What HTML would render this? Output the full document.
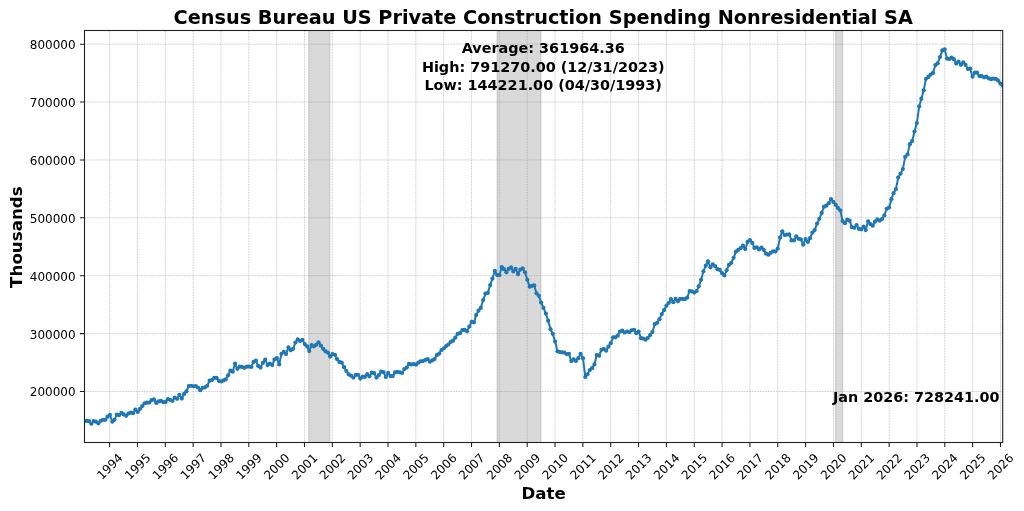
<!DOCTYPE html>
<html lang="en"><head><meta charset="utf-8"><title>Census Bureau US Private Construction Spending Nonresidential SA</title>
<style>html,body{margin:0;padding:0;background:#fff}body{width:1024px;height:511px;overflow:hidden}svg{display:block}text{font-family:"DejaVu Sans","Liberation Sans",sans-serif;fill:#000}.b{font-weight:bold}</style></head><body>
<svg width="1024" height="511" viewBox="0 0 1024 511">
<rect width="1024" height="511" fill="#fff"/>
<rect x="308.8" y="30.5" width="21.0" height="412.0" fill="#808080" fill-opacity="0.3"/>
<path d="M308.8 30.5V442.5M329.8 30.5V442.5" stroke="#808080" stroke-opacity="0.3" stroke-width="1.2" fill="none"/>
<rect x="497.1" y="30.5" width="43.8" height="412.0" fill="#808080" fill-opacity="0.3"/>
<path d="M497.1 30.5V442.5M540.9 30.5V442.5" stroke="#808080" stroke-opacity="0.3" stroke-width="1.2" fill="none"/>
<rect x="835.5" y="30.5" width="7.1" height="412.0" fill="#808080" fill-opacity="0.3"/>
<path d="M835.5 30.5V442.5M842.6 30.5V442.5" stroke="#808080" stroke-opacity="0.3" stroke-width="1.2" fill="none"/>
<path d="M109.60 30.5V442.5M137.44 30.5V442.5M165.28 30.5V442.5M193.12 30.5V442.5M220.96 30.5V442.5M248.80 30.5V442.5M276.64 30.5V442.5M304.48 30.5V442.5M332.32 30.5V442.5M360.16 30.5V442.5M388.00 30.5V442.5M415.84 30.5V442.5M443.68 30.5V442.5M471.52 30.5V442.5M499.36 30.5V442.5M527.20 30.5V442.5M555.04 30.5V442.5M582.88 30.5V442.5M610.72 30.5V442.5M638.56 30.5V442.5M666.40 30.5V442.5M694.24 30.5V442.5M722.08 30.5V442.5M749.92 30.5V442.5M777.76 30.5V442.5M805.60 30.5V442.5M833.44 30.5V442.5M861.28 30.5V442.5M889.12 30.5V442.5M916.96 30.5V442.5M944.80 30.5V442.5M972.64 30.5V442.5M1000.48 30.5V442.5M84.5 391.49H1002.7M84.5 333.60H1002.7M84.5 275.71H1002.7M84.5 217.83H1002.7M84.5 159.94H1002.7M84.5 102.06H1002.7M84.5 44.17H1002.7" fill="none" stroke="#808080" stroke-opacity="0.56" stroke-width="0.6" stroke-dasharray="1.9 0.79"/>
<clipPath id="c"><rect x="84.5" y="30.5" width="918.2" height="412.0"/></clipPath>
<g clip-path="url(#c)"><path d="M84.50 420.84L86.63 420.97L88.99 421.09L91.28 423.77L93.64 421.09L95.93 421.71L98.29 423.34L100.65 420.84L102.94 419.84L105.30 419.84L107.58 416.70L109.94 414.83L112.31 421.71L114.44 419.84L116.80 414.58L119.09 415.20L121.45 412.95L123.73 414.45L126.09 415.83L128.46 413.57L130.74 412.57L133.10 413.20L135.39 409.57L137.75 411.95L140.11 408.81L142.24 406.06L144.61 403.30L146.89 402.68L149.25 402.55L151.54 400.05L153.90 399.42L156.26 402.93L158.55 401.42L160.91 400.80L163.19 402.05L165.56 402.05L167.92 399.17L170.13 399.80L172.49 400.80L174.77 397.54L177.14 398.79L179.42 394.79L181.78 398.54L184.14 393.91L186.43 391.28L188.79 386.02L191.08 385.77L193.44 386.27L195.80 386.02L197.93 387.52L200.29 390.15L202.58 387.86L204.94 387.36L207.23 385.73L209.59 380.72L211.95 380.10L214.23 377.97L216.60 377.97L218.88 381.10L221.24 381.35L223.61 380.47L225.74 379.47L228.10 375.34L230.39 370.70L232.75 371.71L235.03 363.57L237.39 368.83L239.76 366.57L242.04 366.95L244.40 367.82L246.69 366.70L249.05 366.57L251.41 366.95L253.54 361.94L255.91 360.68L258.19 365.95L260.55 367.57L262.84 362.81L265.20 359.68L267.56 365.07L269.85 363.57L272.21 365.07L274.49 359.43L276.86 358.18L279.22 364.44L281.43 353.80L283.79 351.92L286.07 354.05L288.43 347.28L290.72 350.29L293.08 348.79L295.44 342.52L297.73 339.39L300.09 341.02L302.38 339.77L304.74 344.03L307.10 346.28L309.23 351.04L311.59 345.03L313.88 346.28L316.24 344.78L318.53 342.27L320.89 345.66L323.25 348.79L325.53 351.29L327.90 352.54L330.18 356.55L332.54 354.05L334.90 354.80L337.04 359.06L339.40 361.94L341.68 362.56L344.05 367.20L346.33 371.08L348.69 374.46L351.05 375.71L353.34 377.59L355.70 374.84L357.99 374.84L360.35 378.59L362.71 376.59L364.84 376.97L367.20 374.21L369.49 376.34L371.85 372.58L374.14 373.21L376.50 377.59L378.86 375.09L381.15 371.71L383.51 372.21L385.79 376.97L388.15 372.96L390.52 376.09L392.73 376.09L395.09 372.33L397.37 371.96L399.73 372.33L402.02 372.96L404.38 369.08L406.74 367.57L409.03 363.82L411.39 364.44L413.67 364.07L416.04 364.69L418.40 362.56L420.53 361.31L422.89 361.06L425.18 360.06L427.54 359.18L429.82 361.69L432.19 360.43L434.55 359.06L436.83 355.05L439.20 353.55L441.48 350.12L443.84 348.24L446.20 346.11L448.34 344.48L450.70 341.98L452.98 340.72L455.35 337.59L457.63 333.84L459.99 333.21L462.35 330.08L464.64 329.83L467.00 331.33L469.29 326.57L471.65 321.94L474.01 322.31L476.14 315.05L478.50 310.67L480.79 307.91L483.15 300.02L485.44 293.59L487.80 292.97L490.16 285.08L492.44 278.56L494.81 270.80L497.09 275.06L499.45 275.06L501.82 267.04L504.02 269.17L506.39 272.30L508.67 268.92L511.03 267.29L513.32 271.42L515.68 268.79L518.04 274.18L520.33 269.55L522.69 268.29L524.97 272.30L527.34 279.82L529.70 286.70L531.83 285.83L534.19 285.45L536.48 293.34L538.84 295.85L541.12 302.52L543.49 307.91L545.85 313.55L548.13 320.68L550.49 329.20L552.78 333.84L555.14 341.60L557.50 351.37L559.64 352.00L562.00 352.31L564.28 352.56L566.64 354.07L568.93 353.82L571.29 361.08L573.65 359.45L575.94 360.95L578.30 358.20L580.59 353.82L582.95 358.20L585.31 376.99L587.44 374.23L589.80 370.10L592.09 368.22L594.45 364.46L596.74 355.07L599.10 355.69L601.46 349.81L603.74 348.81L606.11 350.68L608.39 346.68L610.75 343.17L613.11 337.28L615.32 337.28L617.69 335.66L619.97 331.52L622.33 330.65L624.62 332.52L626.98 331.52L629.34 332.27L631.63 330.27L633.99 329.77L636.27 333.15L638.63 331.52L641.00 338.16L643.13 338.54L645.49 339.66L647.78 337.99L650.14 335.11L652.42 331.98L654.79 324.21L657.15 322.83L659.43 319.20L661.79 314.07L664.08 310.06L666.44 305.68L668.80 302.79L670.94 299.04L673.30 302.17L675.58 298.79L677.94 301.29L680.23 298.79L682.59 299.04L684.95 299.04L687.24 297.53L689.60 291.02L691.88 291.37L694.25 292.62L696.61 291.12L698.74 286.36L701.10 279.72L703.39 271.33L705.75 265.69L708.03 261.31L710.40 267.32L712.76 264.44L715.04 266.07L717.41 269.20L719.69 269.83L722.05 273.21L724.41 275.46L726.62 270.33L728.98 264.82L731.27 262.81L733.63 257.80L735.92 251.67L738.28 249.79L740.64 248.16L742.93 245.66L745.29 249.04L747.57 241.90L749.93 240.02L752.30 242.90L754.43 247.91L756.79 247.28L759.08 249.41L761.44 247.53L763.72 249.79L766.08 253.55L768.45 254.67L770.73 252.79L773.09 251.29L775.38 251.54L777.74 248.54L780.10 237.51L782.23 231.25L784.60 235.01L786.88 234.63L789.24 234.38L791.53 240.40L793.89 240.40L796.25 236.26L798.54 238.77L800.90 239.39L803.18 244.65L805.55 239.02L807.91 241.90L810.04 238.22L812.40 232.58L814.69 230.08L817.05 223.57L819.33 218.81L821.70 212.92L824.06 206.66L826.34 205.66L828.70 203.15L830.99 199.02L833.35 201.90L835.71 204.78L837.92 207.91L840.28 210.29L842.57 221.06L844.93 223.19L847.22 219.68L849.58 220.68L851.94 227.20L854.22 227.82L856.59 225.07L858.87 228.83L861.23 229.45L863.59 226.57L865.73 230.08L868.09 221.31L870.37 224.07L872.74 225.69L875.02 221.69L877.38 219.43L879.75 220.68L882.03 219.06L884.39 215.42L886.68 208.79L889.04 207.53L891.40 199.14L893.53 193.13L895.90 189.12L898.18 177.59L900.54 173.59L902.83 169.08L905.19 156.93L907.55 154.42L909.84 144.15L912.20 141.02L914.48 131.50L916.84 123.10L919.21 106.31L921.34 98.67L923.70 90.28L925.99 78.76L928.35 76.95L930.63 74.58L933.00 72.95L935.36 65.06L937.64 63.30L940.00 57.04L942.29 50.40L944.65 49.23L947.01 58.54L949.22 58.92L951.58 57.54L953.87 59.17L956.23 63.55L958.52 61.68L960.88 64.81L963.24 62.30L965.52 64.81L967.89 68.94L970.17 68.56L972.53 76.70L974.89 72.70L977.03 72.57L979.39 76.08L981.67 76.08L984.04 77.33L986.32 76.70L988.68 78.33L991.04 79.21L993.33 78.58L995.69 78.96L997.98 80.46L1000.34 83.59L1002.70 85.71" fill="none" stroke="#1f77b4" stroke-width="2" stroke-linejoin="round" stroke-linecap="square"/>
<g fill="#1f77b4"><circle cx="84.50" cy="420.84" r="2.1"/><circle cx="86.63" cy="420.97" r="2.1"/><circle cx="88.99" cy="421.09" r="2.1"/><circle cx="91.28" cy="423.77" r="2.1"/><circle cx="93.64" cy="421.09" r="2.1"/><circle cx="95.93" cy="421.71" r="2.1"/><circle cx="98.29" cy="423.34" r="2.1"/><circle cx="100.65" cy="420.84" r="2.1"/><circle cx="102.94" cy="419.84" r="2.1"/><circle cx="105.30" cy="419.84" r="2.1"/><circle cx="107.58" cy="416.70" r="2.1"/><circle cx="109.94" cy="414.83" r="2.1"/><circle cx="112.31" cy="421.71" r="2.1"/><circle cx="114.44" cy="419.84" r="2.1"/><circle cx="116.80" cy="414.58" r="2.1"/><circle cx="119.09" cy="415.20" r="2.1"/><circle cx="121.45" cy="412.95" r="2.1"/><circle cx="123.73" cy="414.45" r="2.1"/><circle cx="126.09" cy="415.83" r="2.1"/><circle cx="128.46" cy="413.57" r="2.1"/><circle cx="130.74" cy="412.57" r="2.1"/><circle cx="133.10" cy="413.20" r="2.1"/><circle cx="135.39" cy="409.57" r="2.1"/><circle cx="137.75" cy="411.95" r="2.1"/><circle cx="140.11" cy="408.81" r="2.1"/><circle cx="142.24" cy="406.06" r="2.1"/><circle cx="144.61" cy="403.30" r="2.1"/><circle cx="146.89" cy="402.68" r="2.1"/><circle cx="149.25" cy="402.55" r="2.1"/><circle cx="151.54" cy="400.05" r="2.1"/><circle cx="153.90" cy="399.42" r="2.1"/><circle cx="156.26" cy="402.93" r="2.1"/><circle cx="158.55" cy="401.42" r="2.1"/><circle cx="160.91" cy="400.80" r="2.1"/><circle cx="163.19" cy="402.05" r="2.1"/><circle cx="165.56" cy="402.05" r="2.1"/><circle cx="167.92" cy="399.17" r="2.1"/><circle cx="170.13" cy="399.80" r="2.1"/><circle cx="172.49" cy="400.80" r="2.1"/><circle cx="174.77" cy="397.54" r="2.1"/><circle cx="177.14" cy="398.79" r="2.1"/><circle cx="179.42" cy="394.79" r="2.1"/><circle cx="181.78" cy="398.54" r="2.1"/><circle cx="184.14" cy="393.91" r="2.1"/><circle cx="186.43" cy="391.28" r="2.1"/><circle cx="188.79" cy="386.02" r="2.1"/><circle cx="191.08" cy="385.77" r="2.1"/><circle cx="193.44" cy="386.27" r="2.1"/><circle cx="195.80" cy="386.02" r="2.1"/><circle cx="197.93" cy="387.52" r="2.1"/><circle cx="200.29" cy="390.15" r="2.1"/><circle cx="202.58" cy="387.86" r="2.1"/><circle cx="204.94" cy="387.36" r="2.1"/><circle cx="207.23" cy="385.73" r="2.1"/><circle cx="209.59" cy="380.72" r="2.1"/><circle cx="211.95" cy="380.10" r="2.1"/><circle cx="214.23" cy="377.97" r="2.1"/><circle cx="216.60" cy="377.97" r="2.1"/><circle cx="218.88" cy="381.10" r="2.1"/><circle cx="221.24" cy="381.35" r="2.1"/><circle cx="223.61" cy="380.47" r="2.1"/><circle cx="225.74" cy="379.47" r="2.1"/><circle cx="228.10" cy="375.34" r="2.1"/><circle cx="230.39" cy="370.70" r="2.1"/><circle cx="232.75" cy="371.71" r="2.1"/><circle cx="235.03" cy="363.57" r="2.1"/><circle cx="237.39" cy="368.83" r="2.1"/><circle cx="239.76" cy="366.57" r="2.1"/><circle cx="242.04" cy="366.95" r="2.1"/><circle cx="244.40" cy="367.82" r="2.1"/><circle cx="246.69" cy="366.70" r="2.1"/><circle cx="249.05" cy="366.57" r="2.1"/><circle cx="251.41" cy="366.95" r="2.1"/><circle cx="253.54" cy="361.94" r="2.1"/><circle cx="255.91" cy="360.68" r="2.1"/><circle cx="258.19" cy="365.95" r="2.1"/><circle cx="260.55" cy="367.57" r="2.1"/><circle cx="262.84" cy="362.81" r="2.1"/><circle cx="265.20" cy="359.68" r="2.1"/><circle cx="267.56" cy="365.07" r="2.1"/><circle cx="269.85" cy="363.57" r="2.1"/><circle cx="272.21" cy="365.07" r="2.1"/><circle cx="274.49" cy="359.43" r="2.1"/><circle cx="276.86" cy="358.18" r="2.1"/><circle cx="279.22" cy="364.44" r="2.1"/><circle cx="281.43" cy="353.80" r="2.1"/><circle cx="283.79" cy="351.92" r="2.1"/><circle cx="286.07" cy="354.05" r="2.1"/><circle cx="288.43" cy="347.28" r="2.1"/><circle cx="290.72" cy="350.29" r="2.1"/><circle cx="293.08" cy="348.79" r="2.1"/><circle cx="295.44" cy="342.52" r="2.1"/><circle cx="297.73" cy="339.39" r="2.1"/><circle cx="300.09" cy="341.02" r="2.1"/><circle cx="302.38" cy="339.77" r="2.1"/><circle cx="304.74" cy="344.03" r="2.1"/><circle cx="307.10" cy="346.28" r="2.1"/><circle cx="309.23" cy="351.04" r="2.1"/><circle cx="311.59" cy="345.03" r="2.1"/><circle cx="313.88" cy="346.28" r="2.1"/><circle cx="316.24" cy="344.78" r="2.1"/><circle cx="318.53" cy="342.27" r="2.1"/><circle cx="320.89" cy="345.66" r="2.1"/><circle cx="323.25" cy="348.79" r="2.1"/><circle cx="325.53" cy="351.29" r="2.1"/><circle cx="327.90" cy="352.54" r="2.1"/><circle cx="330.18" cy="356.55" r="2.1"/><circle cx="332.54" cy="354.05" r="2.1"/><circle cx="334.90" cy="354.80" r="2.1"/><circle cx="337.04" cy="359.06" r="2.1"/><circle cx="339.40" cy="361.94" r="2.1"/><circle cx="341.68" cy="362.56" r="2.1"/><circle cx="344.05" cy="367.20" r="2.1"/><circle cx="346.33" cy="371.08" r="2.1"/><circle cx="348.69" cy="374.46" r="2.1"/><circle cx="351.05" cy="375.71" r="2.1"/><circle cx="353.34" cy="377.59" r="2.1"/><circle cx="355.70" cy="374.84" r="2.1"/><circle cx="357.99" cy="374.84" r="2.1"/><circle cx="360.35" cy="378.59" r="2.1"/><circle cx="362.71" cy="376.59" r="2.1"/><circle cx="364.84" cy="376.97" r="2.1"/><circle cx="367.20" cy="374.21" r="2.1"/><circle cx="369.49" cy="376.34" r="2.1"/><circle cx="371.85" cy="372.58" r="2.1"/><circle cx="374.14" cy="373.21" r="2.1"/><circle cx="376.50" cy="377.59" r="2.1"/><circle cx="378.86" cy="375.09" r="2.1"/><circle cx="381.15" cy="371.71" r="2.1"/><circle cx="383.51" cy="372.21" r="2.1"/><circle cx="385.79" cy="376.97" r="2.1"/><circle cx="388.15" cy="372.96" r="2.1"/><circle cx="390.52" cy="376.09" r="2.1"/><circle cx="392.73" cy="376.09" r="2.1"/><circle cx="395.09" cy="372.33" r="2.1"/><circle cx="397.37" cy="371.96" r="2.1"/><circle cx="399.73" cy="372.33" r="2.1"/><circle cx="402.02" cy="372.96" r="2.1"/><circle cx="404.38" cy="369.08" r="2.1"/><circle cx="406.74" cy="367.57" r="2.1"/><circle cx="409.03" cy="363.82" r="2.1"/><circle cx="411.39" cy="364.44" r="2.1"/><circle cx="413.67" cy="364.07" r="2.1"/><circle cx="416.04" cy="364.69" r="2.1"/><circle cx="418.40" cy="362.56" r="2.1"/><circle cx="420.53" cy="361.31" r="2.1"/><circle cx="422.89" cy="361.06" r="2.1"/><circle cx="425.18" cy="360.06" r="2.1"/><circle cx="427.54" cy="359.18" r="2.1"/><circle cx="429.82" cy="361.69" r="2.1"/><circle cx="432.19" cy="360.43" r="2.1"/><circle cx="434.55" cy="359.06" r="2.1"/><circle cx="436.83" cy="355.05" r="2.1"/><circle cx="439.20" cy="353.55" r="2.1"/><circle cx="441.48" cy="350.12" r="2.1"/><circle cx="443.84" cy="348.24" r="2.1"/><circle cx="446.20" cy="346.11" r="2.1"/><circle cx="448.34" cy="344.48" r="2.1"/><circle cx="450.70" cy="341.98" r="2.1"/><circle cx="452.98" cy="340.72" r="2.1"/><circle cx="455.35" cy="337.59" r="2.1"/><circle cx="457.63" cy="333.84" r="2.1"/><circle cx="459.99" cy="333.21" r="2.1"/><circle cx="462.35" cy="330.08" r="2.1"/><circle cx="464.64" cy="329.83" r="2.1"/><circle cx="467.00" cy="331.33" r="2.1"/><circle cx="469.29" cy="326.57" r="2.1"/><circle cx="471.65" cy="321.94" r="2.1"/><circle cx="474.01" cy="322.31" r="2.1"/><circle cx="476.14" cy="315.05" r="2.1"/><circle cx="478.50" cy="310.67" r="2.1"/><circle cx="480.79" cy="307.91" r="2.1"/><circle cx="483.15" cy="300.02" r="2.1"/><circle cx="485.44" cy="293.59" r="2.1"/><circle cx="487.80" cy="292.97" r="2.1"/><circle cx="490.16" cy="285.08" r="2.1"/><circle cx="492.44" cy="278.56" r="2.1"/><circle cx="494.81" cy="270.80" r="2.1"/><circle cx="497.09" cy="275.06" r="2.1"/><circle cx="499.45" cy="275.06" r="2.1"/><circle cx="501.82" cy="267.04" r="2.1"/><circle cx="504.02" cy="269.17" r="2.1"/><circle cx="506.39" cy="272.30" r="2.1"/><circle cx="508.67" cy="268.92" r="2.1"/><circle cx="511.03" cy="267.29" r="2.1"/><circle cx="513.32" cy="271.42" r="2.1"/><circle cx="515.68" cy="268.79" r="2.1"/><circle cx="518.04" cy="274.18" r="2.1"/><circle cx="520.33" cy="269.55" r="2.1"/><circle cx="522.69" cy="268.29" r="2.1"/><circle cx="524.97" cy="272.30" r="2.1"/><circle cx="527.34" cy="279.82" r="2.1"/><circle cx="529.70" cy="286.70" r="2.1"/><circle cx="531.83" cy="285.83" r="2.1"/><circle cx="534.19" cy="285.45" r="2.1"/><circle cx="536.48" cy="293.34" r="2.1"/><circle cx="538.84" cy="295.85" r="2.1"/><circle cx="541.12" cy="302.52" r="2.1"/><circle cx="543.49" cy="307.91" r="2.1"/><circle cx="545.85" cy="313.55" r="2.1"/><circle cx="548.13" cy="320.68" r="2.1"/><circle cx="550.49" cy="329.20" r="2.1"/><circle cx="552.78" cy="333.84" r="2.1"/><circle cx="555.14" cy="341.60" r="2.1"/><circle cx="557.50" cy="351.37" r="2.1"/><circle cx="559.64" cy="352.00" r="2.1"/><circle cx="562.00" cy="352.31" r="2.1"/><circle cx="564.28" cy="352.56" r="2.1"/><circle cx="566.64" cy="354.07" r="2.1"/><circle cx="568.93" cy="353.82" r="2.1"/><circle cx="571.29" cy="361.08" r="2.1"/><circle cx="573.65" cy="359.45" r="2.1"/><circle cx="575.94" cy="360.95" r="2.1"/><circle cx="578.30" cy="358.20" r="2.1"/><circle cx="580.59" cy="353.82" r="2.1"/><circle cx="582.95" cy="358.20" r="2.1"/><circle cx="585.31" cy="376.99" r="2.1"/><circle cx="587.44" cy="374.23" r="2.1"/><circle cx="589.80" cy="370.10" r="2.1"/><circle cx="592.09" cy="368.22" r="2.1"/><circle cx="594.45" cy="364.46" r="2.1"/><circle cx="596.74" cy="355.07" r="2.1"/><circle cx="599.10" cy="355.69" r="2.1"/><circle cx="601.46" cy="349.81" r="2.1"/><circle cx="603.74" cy="348.81" r="2.1"/><circle cx="606.11" cy="350.68" r="2.1"/><circle cx="608.39" cy="346.68" r="2.1"/><circle cx="610.75" cy="343.17" r="2.1"/><circle cx="613.11" cy="337.28" r="2.1"/><circle cx="615.32" cy="337.28" r="2.1"/><circle cx="617.69" cy="335.66" r="2.1"/><circle cx="619.97" cy="331.52" r="2.1"/><circle cx="622.33" cy="330.65" r="2.1"/><circle cx="624.62" cy="332.52" r="2.1"/><circle cx="626.98" cy="331.52" r="2.1"/><circle cx="629.34" cy="332.27" r="2.1"/><circle cx="631.63" cy="330.27" r="2.1"/><circle cx="633.99" cy="329.77" r="2.1"/><circle cx="636.27" cy="333.15" r="2.1"/><circle cx="638.63" cy="331.52" r="2.1"/><circle cx="641.00" cy="338.16" r="2.1"/><circle cx="643.13" cy="338.54" r="2.1"/><circle cx="645.49" cy="339.66" r="2.1"/><circle cx="647.78" cy="337.99" r="2.1"/><circle cx="650.14" cy="335.11" r="2.1"/><circle cx="652.42" cy="331.98" r="2.1"/><circle cx="654.79" cy="324.21" r="2.1"/><circle cx="657.15" cy="322.83" r="2.1"/><circle cx="659.43" cy="319.20" r="2.1"/><circle cx="661.79" cy="314.07" r="2.1"/><circle cx="664.08" cy="310.06" r="2.1"/><circle cx="666.44" cy="305.68" r="2.1"/><circle cx="668.80" cy="302.79" r="2.1"/><circle cx="670.94" cy="299.04" r="2.1"/><circle cx="673.30" cy="302.17" r="2.1"/><circle cx="675.58" cy="298.79" r="2.1"/><circle cx="677.94" cy="301.29" r="2.1"/><circle cx="680.23" cy="298.79" r="2.1"/><circle cx="682.59" cy="299.04" r="2.1"/><circle cx="684.95" cy="299.04" r="2.1"/><circle cx="687.24" cy="297.53" r="2.1"/><circle cx="689.60" cy="291.02" r="2.1"/><circle cx="691.88" cy="291.37" r="2.1"/><circle cx="694.25" cy="292.62" r="2.1"/><circle cx="696.61" cy="291.12" r="2.1"/><circle cx="698.74" cy="286.36" r="2.1"/><circle cx="701.10" cy="279.72" r="2.1"/><circle cx="703.39" cy="271.33" r="2.1"/><circle cx="705.75" cy="265.69" r="2.1"/><circle cx="708.03" cy="261.31" r="2.1"/><circle cx="710.40" cy="267.32" r="2.1"/><circle cx="712.76" cy="264.44" r="2.1"/><circle cx="715.04" cy="266.07" r="2.1"/><circle cx="717.41" cy="269.20" r="2.1"/><circle cx="719.69" cy="269.83" r="2.1"/><circle cx="722.05" cy="273.21" r="2.1"/><circle cx="724.41" cy="275.46" r="2.1"/><circle cx="726.62" cy="270.33" r="2.1"/><circle cx="728.98" cy="264.82" r="2.1"/><circle cx="731.27" cy="262.81" r="2.1"/><circle cx="733.63" cy="257.80" r="2.1"/><circle cx="735.92" cy="251.67" r="2.1"/><circle cx="738.28" cy="249.79" r="2.1"/><circle cx="740.64" cy="248.16" r="2.1"/><circle cx="742.93" cy="245.66" r="2.1"/><circle cx="745.29" cy="249.04" r="2.1"/><circle cx="747.57" cy="241.90" r="2.1"/><circle cx="749.93" cy="240.02" r="2.1"/><circle cx="752.30" cy="242.90" r="2.1"/><circle cx="754.43" cy="247.91" r="2.1"/><circle cx="756.79" cy="247.28" r="2.1"/><circle cx="759.08" cy="249.41" r="2.1"/><circle cx="761.44" cy="247.53" r="2.1"/><circle cx="763.72" cy="249.79" r="2.1"/><circle cx="766.08" cy="253.55" r="2.1"/><circle cx="768.45" cy="254.67" r="2.1"/><circle cx="770.73" cy="252.79" r="2.1"/><circle cx="773.09" cy="251.29" r="2.1"/><circle cx="775.38" cy="251.54" r="2.1"/><circle cx="777.74" cy="248.54" r="2.1"/><circle cx="780.10" cy="237.51" r="2.1"/><circle cx="782.23" cy="231.25" r="2.1"/><circle cx="784.60" cy="235.01" r="2.1"/><circle cx="786.88" cy="234.63" r="2.1"/><circle cx="789.24" cy="234.38" r="2.1"/><circle cx="791.53" cy="240.40" r="2.1"/><circle cx="793.89" cy="240.40" r="2.1"/><circle cx="796.25" cy="236.26" r="2.1"/><circle cx="798.54" cy="238.77" r="2.1"/><circle cx="800.90" cy="239.39" r="2.1"/><circle cx="803.18" cy="244.65" r="2.1"/><circle cx="805.55" cy="239.02" r="2.1"/><circle cx="807.91" cy="241.90" r="2.1"/><circle cx="810.04" cy="238.22" r="2.1"/><circle cx="812.40" cy="232.58" r="2.1"/><circle cx="814.69" cy="230.08" r="2.1"/><circle cx="817.05" cy="223.57" r="2.1"/><circle cx="819.33" cy="218.81" r="2.1"/><circle cx="821.70" cy="212.92" r="2.1"/><circle cx="824.06" cy="206.66" r="2.1"/><circle cx="826.34" cy="205.66" r="2.1"/><circle cx="828.70" cy="203.15" r="2.1"/><circle cx="830.99" cy="199.02" r="2.1"/><circle cx="833.35" cy="201.90" r="2.1"/><circle cx="835.71" cy="204.78" r="2.1"/><circle cx="837.92" cy="207.91" r="2.1"/><circle cx="840.28" cy="210.29" r="2.1"/><circle cx="842.57" cy="221.06" r="2.1"/><circle cx="844.93" cy="223.19" r="2.1"/><circle cx="847.22" cy="219.68" r="2.1"/><circle cx="849.58" cy="220.68" r="2.1"/><circle cx="851.94" cy="227.20" r="2.1"/><circle cx="854.22" cy="227.82" r="2.1"/><circle cx="856.59" cy="225.07" r="2.1"/><circle cx="858.87" cy="228.83" r="2.1"/><circle cx="861.23" cy="229.45" r="2.1"/><circle cx="863.59" cy="226.57" r="2.1"/><circle cx="865.73" cy="230.08" r="2.1"/><circle cx="868.09" cy="221.31" r="2.1"/><circle cx="870.37" cy="224.07" r="2.1"/><circle cx="872.74" cy="225.69" r="2.1"/><circle cx="875.02" cy="221.69" r="2.1"/><circle cx="877.38" cy="219.43" r="2.1"/><circle cx="879.75" cy="220.68" r="2.1"/><circle cx="882.03" cy="219.06" r="2.1"/><circle cx="884.39" cy="215.42" r="2.1"/><circle cx="886.68" cy="208.79" r="2.1"/><circle cx="889.04" cy="207.53" r="2.1"/><circle cx="891.40" cy="199.14" r="2.1"/><circle cx="893.53" cy="193.13" r="2.1"/><circle cx="895.90" cy="189.12" r="2.1"/><circle cx="898.18" cy="177.59" r="2.1"/><circle cx="900.54" cy="173.59" r="2.1"/><circle cx="902.83" cy="169.08" r="2.1"/><circle cx="905.19" cy="156.93" r="2.1"/><circle cx="907.55" cy="154.42" r="2.1"/><circle cx="909.84" cy="144.15" r="2.1"/><circle cx="912.20" cy="141.02" r="2.1"/><circle cx="914.48" cy="131.50" r="2.1"/><circle cx="916.84" cy="123.10" r="2.1"/><circle cx="919.21" cy="106.31" r="2.1"/><circle cx="921.34" cy="98.67" r="2.1"/><circle cx="923.70" cy="90.28" r="2.1"/><circle cx="925.99" cy="78.76" r="2.1"/><circle cx="928.35" cy="76.95" r="2.1"/><circle cx="930.63" cy="74.58" r="2.1"/><circle cx="933.00" cy="72.95" r="2.1"/><circle cx="935.36" cy="65.06" r="2.1"/><circle cx="937.64" cy="63.30" r="2.1"/><circle cx="940.00" cy="57.04" r="2.1"/><circle cx="942.29" cy="50.40" r="2.1"/><circle cx="944.65" cy="49.23" r="2.1"/><circle cx="947.01" cy="58.54" r="2.1"/><circle cx="949.22" cy="58.92" r="2.1"/><circle cx="951.58" cy="57.54" r="2.1"/><circle cx="953.87" cy="59.17" r="2.1"/><circle cx="956.23" cy="63.55" r="2.1"/><circle cx="958.52" cy="61.68" r="2.1"/><circle cx="960.88" cy="64.81" r="2.1"/><circle cx="963.24" cy="62.30" r="2.1"/><circle cx="965.52" cy="64.81" r="2.1"/><circle cx="967.89" cy="68.94" r="2.1"/><circle cx="970.17" cy="68.56" r="2.1"/><circle cx="972.53" cy="76.70" r="2.1"/><circle cx="974.89" cy="72.70" r="2.1"/><circle cx="977.03" cy="72.57" r="2.1"/><circle cx="979.39" cy="76.08" r="2.1"/><circle cx="981.67" cy="76.08" r="2.1"/><circle cx="984.04" cy="77.33" r="2.1"/><circle cx="986.32" cy="76.70" r="2.1"/><circle cx="988.68" cy="78.33" r="2.1"/><circle cx="991.04" cy="79.21" r="2.1"/><circle cx="993.33" cy="78.58" r="2.1"/><circle cx="995.69" cy="78.96" r="2.1"/><circle cx="997.98" cy="80.46" r="2.1"/><circle cx="1000.34" cy="83.59" r="2.1"/><circle cx="1002.70" cy="85.71" r="2.1"/></g></g>
<path d="M109.60 442.5v4.6M137.44 442.5v4.6M165.28 442.5v4.6M193.12 442.5v4.6M220.96 442.5v4.6M248.80 442.5v4.6M276.64 442.5v4.6M304.48 442.5v4.6M332.32 442.5v4.6M360.16 442.5v4.6M388.00 442.5v4.6M415.84 442.5v4.6M443.68 442.5v4.6M471.52 442.5v4.6M499.36 442.5v4.6M527.20 442.5v4.6M555.04 442.5v4.6M582.88 442.5v4.6M610.72 442.5v4.6M638.56 442.5v4.6M666.40 442.5v4.6M694.24 442.5v4.6M722.08 442.5v4.6M749.92 442.5v4.6M777.76 442.5v4.6M805.60 442.5v4.6M833.44 442.5v4.6M861.28 442.5v4.6M889.12 442.5v4.6M916.96 442.5v4.6M944.80 442.5v4.6M972.64 442.5v4.6M1000.48 442.5v4.6M84.5 391.49h-4.6M84.5 333.60h-4.6M84.5 275.71h-4.6M84.5 217.83h-4.6M84.5 159.94h-4.6M84.5 102.06h-4.6M84.5 44.17h-4.6" fill="none" stroke="#1c1c1c" stroke-width="1.05"/>
<rect x="84.5" y="30.5" width="918.2" height="412.0" fill="none" stroke="#222" stroke-width="1.1"/>
<text x="75.6" y="396.39" font-size="12" text-anchor="end">200000</text>
<text x="75.6" y="338.50" font-size="12" text-anchor="end">300000</text>
<text x="75.6" y="280.61" font-size="12" text-anchor="end">400000</text>
<text x="75.6" y="222.73" font-size="12" text-anchor="end">500000</text>
<text x="75.6" y="164.84" font-size="12" text-anchor="end">600000</text>
<text x="75.6" y="106.96" font-size="12" text-anchor="end">700000</text>
<text x="75.6" y="49.07" font-size="12" text-anchor="end">800000</text>
<text transform="translate(109.60 466.3) rotate(-45)" font-size="12" text-anchor="middle" y="4.35">1994</text>
<text transform="translate(137.44 466.3) rotate(-45)" font-size="12" text-anchor="middle" y="4.35">1995</text>
<text transform="translate(165.28 466.3) rotate(-45)" font-size="12" text-anchor="middle" y="4.35">1996</text>
<text transform="translate(193.12 466.3) rotate(-45)" font-size="12" text-anchor="middle" y="4.35">1997</text>
<text transform="translate(220.96 466.3) rotate(-45)" font-size="12" text-anchor="middle" y="4.35">1998</text>
<text transform="translate(248.80 466.3) rotate(-45)" font-size="12" text-anchor="middle" y="4.35">1999</text>
<text transform="translate(276.64 466.3) rotate(-45)" font-size="12" text-anchor="middle" y="4.35">2000</text>
<text transform="translate(304.48 466.3) rotate(-45)" font-size="12" text-anchor="middle" y="4.35">2001</text>
<text transform="translate(332.32 466.3) rotate(-45)" font-size="12" text-anchor="middle" y="4.35">2002</text>
<text transform="translate(360.16 466.3) rotate(-45)" font-size="12" text-anchor="middle" y="4.35">2003</text>
<text transform="translate(388.00 466.3) rotate(-45)" font-size="12" text-anchor="middle" y="4.35">2004</text>
<text transform="translate(415.84 466.3) rotate(-45)" font-size="12" text-anchor="middle" y="4.35">2005</text>
<text transform="translate(443.68 466.3) rotate(-45)" font-size="12" text-anchor="middle" y="4.35">2006</text>
<text transform="translate(471.52 466.3) rotate(-45)" font-size="12" text-anchor="middle" y="4.35">2007</text>
<text transform="translate(499.36 466.3) rotate(-45)" font-size="12" text-anchor="middle" y="4.35">2008</text>
<text transform="translate(527.20 466.3) rotate(-45)" font-size="12" text-anchor="middle" y="4.35">2009</text>
<text transform="translate(555.04 466.3) rotate(-45)" font-size="12" text-anchor="middle" y="4.35">2010</text>
<text transform="translate(582.88 466.3) rotate(-45)" font-size="12" text-anchor="middle" y="4.35">2011</text>
<text transform="translate(610.72 466.3) rotate(-45)" font-size="12" text-anchor="middle" y="4.35">2012</text>
<text transform="translate(638.56 466.3) rotate(-45)" font-size="12" text-anchor="middle" y="4.35">2013</text>
<text transform="translate(666.40 466.3) rotate(-45)" font-size="12" text-anchor="middle" y="4.35">2014</text>
<text transform="translate(694.24 466.3) rotate(-45)" font-size="12" text-anchor="middle" y="4.35">2015</text>
<text transform="translate(722.08 466.3) rotate(-45)" font-size="12" text-anchor="middle" y="4.35">2016</text>
<text transform="translate(749.92 466.3) rotate(-45)" font-size="12" text-anchor="middle" y="4.35">2017</text>
<text transform="translate(777.76 466.3) rotate(-45)" font-size="12" text-anchor="middle" y="4.35">2018</text>
<text transform="translate(805.60 466.3) rotate(-45)" font-size="12" text-anchor="middle" y="4.35">2019</text>
<text transform="translate(833.44 466.3) rotate(-45)" font-size="12" text-anchor="middle" y="4.35">2020</text>
<text transform="translate(861.28 466.3) rotate(-45)" font-size="12" text-anchor="middle" y="4.35">2021</text>
<text transform="translate(889.12 466.3) rotate(-45)" font-size="12" text-anchor="middle" y="4.35">2022</text>
<text transform="translate(916.96 466.3) rotate(-45)" font-size="12" text-anchor="middle" y="4.35">2023</text>
<text transform="translate(944.80 466.3) rotate(-45)" font-size="12" text-anchor="middle" y="4.35">2024</text>
<text transform="translate(972.64 466.3) rotate(-45)" font-size="12" text-anchor="middle" y="4.35">2025</text>
<text transform="translate(1000.48 466.3) rotate(-45)" font-size="12" text-anchor="middle" y="4.35">2026</text>
<text class="b" x="543.2" y="23.6" font-size="19.25" text-anchor="middle">Census Bureau US Private Construction Spending Nonresidential SA</text>
<text class="b" x="543.6" y="498.5" font-size="16.6" text-anchor="middle">Date</text>
<text class="b" transform="translate(21.7 237.1) rotate(-90)" font-size="16.7" text-anchor="middle">Thousands</text>
<text class="b" x="543.2" y="53.3" font-size="14.4" text-anchor="middle">Average: 361964.36</text>
<text class="b" x="543.2" y="71.7" font-size="14.4" text-anchor="middle">High: 791270.00 (12/31/2023)</text>
<text class="b" x="543.2" y="90.2" font-size="14.4" text-anchor="middle">Low: 144221.00 (04/30/1993)</text>
<text class="b" x="999.4" y="401.9" font-size="14.37" text-anchor="end">Jan 2026: 728241.00</text>
</svg></body></html>
